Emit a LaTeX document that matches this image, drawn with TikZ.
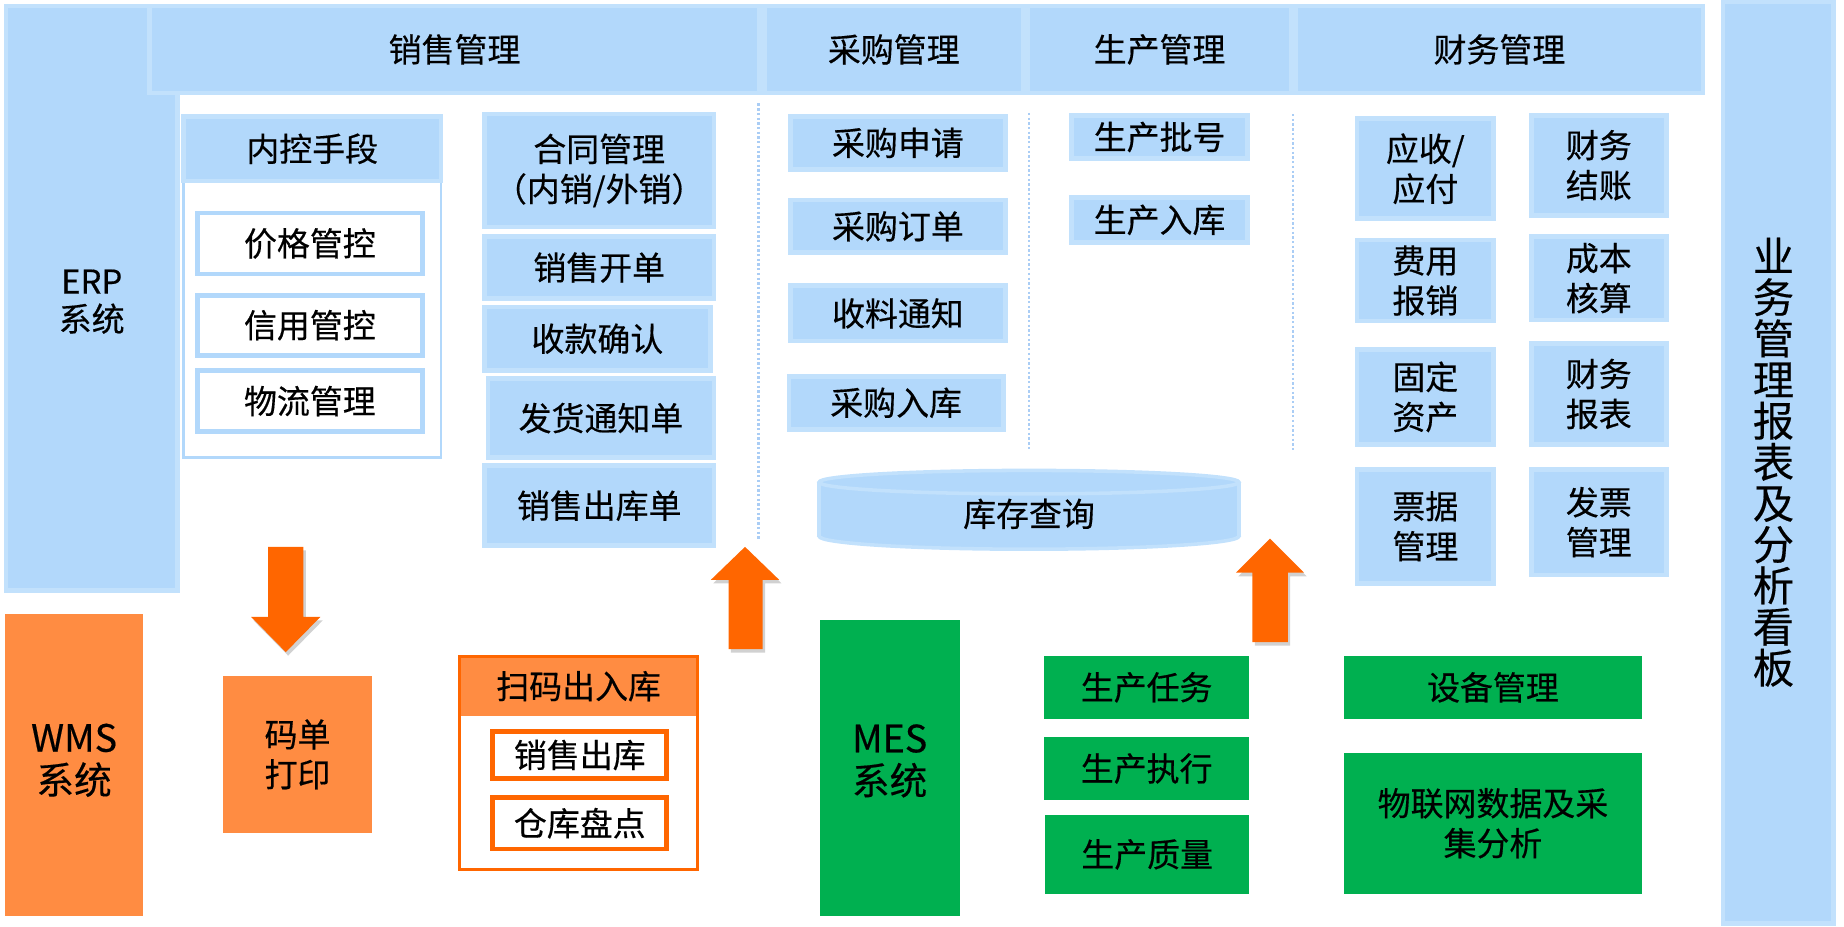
\documentclass[tikz,border=0pt]{standalone}
\usepackage{fontspec}
\setmainfont{Noto Sans CJK SC}[FakeBold=0.4]
\usetikzlibrary{fit}
\definecolor{bfill}{RGB}{178,216,251}
\definecolor{brim}{RGB}{194,225,252}
\definecolor{bline}{RGB}{170,205,245}
\definecolor{olite}{RGB}{255,140,66}
\definecolor{odark}{RGB}{255,102,0}
\definecolor{gfill}{RGB}{0,176,80}
% \bx{shape style}{name}{x1}{y1}{x2}{y2}{text style}{text}
\newcommand\bx[8]{%
  \node[#1, fit={(#3,#4)(#5,#6)}] (#2) {};
  \node[lbl, #7] (#2-t) at (#2.center) {#8};
}
\begin{document}
\begin{tikzpicture}[x=0.5pt,y=-0.5pt,
 shp/.style={inner sep=0pt},
 lbl/.style={inner sep=0pt, align=center, font=\fontsize{14}{17}\selectfont, text=black},
 bluebox/.style={shp, fill=bfill, draw=brim, line width=2pt},
 wbox/.style={shp, fill=white, draw=bfill, line width=2pt},
 obox/.style={shp, fill=olite},
 owbox/.style={shp, fill=white, draw=odark, line width=2pt},
 gbox/.style={shp, fill=gfill},
 bgrp/.style={shp, draw=bfill, line width=1.2pt, fill=white},
 ogrp/.style={shp, draw=odark, line width=1.3pt},
 dotline/.style={draw=bline, dash pattern=on 1pt off 1pt, line width=0.9pt},
 blockarrow/.style={fill=odark},
 arrowshadow/.style={fill=black, opacity=0.18},
]
\useasboundingbox (0,0) rectangle (1568,787.4);

% ERP column and headers
\bx{bluebox}{erp}{5}{5}{151}{502}{font=\fontsize{14}{16}\selectfont, yshift=-1.5pt}{ERP\\系统}
\bx{bluebox}{hsale}{127}{5}{646}{79}{}{销售管理}
\bx{bluebox}{hpur}{650}{5}{870}{79}{}{采购管理}
\bx{bluebox}{hprod}{874}{5}{1098}{79}{}{生产管理}
\bx{bluebox}{hfin}{1102}{5}{1448}{79}{}{财务管理}
\bx{bluebox}{board}{1465}{1}{1559}{785}{font=\fontsize{17.5}{17.5}\selectfont, xshift=-2}{业\\务\\管\\理\\报\\表\\及\\分\\析\\看\\板}

% internal control group
\node[bgrp, fit={(156,99)(375,389)}] (nkg) {};
\bx{bluebox}{nkh}{156}{99}{375}{154}{}{内控手段}
\bx{wbox}{jg}{168}{181}{359}{233}{}{价格管控}
\bx{wbox}{xy}{168}{251}{359}{302}{}{信用管控}
\bx{wbox}{wl}{168}{315}{359}{367}{}{物流管理}

% sales items
\bx{bluebox}{ht}{412}{97}{607}{193}{}{合同管理\\（内销/外销）}
\bx{bluebox}{xskd}{412}{201}{607}{254}{}{销售开单}
\bx{bluebox}{skqr}{412}{261}{604}{315}{}{收款确认}
\bx{bluebox}{fhtz}{415}{322}{607}{389}{}{发货通知单}
\bx{bluebox}{xsckd}{412}{396}{607}{464}{}{销售出库单}

\draw[dotline] (645,88) -- (645,460);

% purchase
\bx{bluebox}{cgsq}{672}{99}{855}{144}{}{采购申请}
\bx{bluebox}{cgdd}{672}{170}{855}{215}{}{采购订单}
\bx{bluebox}{sltz}{672}{243}{855}{290}{}{收料通知}
\bx{bluebox}{cgrk}{671}{320}{853}{365}{}{采购入库}
\draw[dotline] (875,96) -- (875,384);

% production
\bx{bluebox}{scph}{911}{98}{1061}{135}{}{生产批号}
\bx{bluebox}{scrk}{911}{168}{1061}{206}{}{生产入库}
\draw[dotline] (1099.5,97) -- (1099.5,384);

% finance
\bx{bluebox}{ys}{1154}{101}{1270}{186}{}{应收/\\应付}
\bx{bluebox}{cwjz}{1302}{98}{1417}{183}{}{财务\\结账}
\bx{bluebox}{fybx}{1154}{204}{1270}{273}{}{费用\\报销}
\bx{bluebox}{cbhs}{1302}{201}{1417}{272}{}{成本\\核算}
\bx{bluebox}{gdzc}{1154}{297}{1270}{378}{}{固定\\资产}
\bx{bluebox}{cwbb}{1302}{292}{1417}{378}{}{财务\\报表}
\bx{bluebox}{pjgl}{1154}{399}{1270}{496}{}{票据\\管理}
\bx{bluebox}{fpgl}{1302}{399}{1417}{489}{}{发票\\管理}

% inventory cylinder
\filldraw[fill=bfill, draw=brim, line width=1.5pt] (875,456) ellipse [x radius=178.5, y radius=11];
\fill[bfill] (696.5,410) rectangle (1053.5,456);
\draw[brim, line width=1.5pt] (696.5,410) -- (696.5,456) (1053.5,410) -- (1053.5,456);
\filldraw[fill=bfill, draw=brim, line width=1.5pt] (875,410) ellipse [x radius=178.5, y radius=10];
\node[lbl] (kc) at (875,437) {库存查询};

% block arrows
\fill[arrowshadow] (230,468) -- (260,468) -- (260,527.5) -- (274.5,527.5) -- (245,557.5) -- (215.5,527.5) -- (230,527.5) -- cycle;
\fill[blockarrow] (228,465) -- (258,465) -- (258,524.5) -- (272.5,524.5) -- (243,554.5) -- (213.5,524.5) -- (228,524.5) -- cycle;
\fill[arrowshadow] (621.5,555) -- (621.5,496) -- (606.5,496) -- (635.5,468) -- (664.5,496) -- (650.5,496) -- (650.5,555) -- cycle;
\fill[blockarrow] (619.5,552) -- (619.5,493) -- (604.5,493) -- (633.5,465) -- (662.5,493) -- (648.5,493) -- (648.5,552) -- cycle;
\fill[arrowshadow] (1067,549) -- (1067,490) -- (1053,490) -- (1082,461) -- (1111,490) -- (1097,490) -- (1097,549) -- cycle;
\fill[blockarrow] (1065,546) -- (1065,487) -- (1051,487) -- (1080,458) -- (1109,487) -- (1095,487) -- (1095,546) -- cycle;

% WMS
\bx{obox}{wms}{4}{522}{122}{779}{font=\fontsize{16}{18}\selectfont, yshift=2pt}{WMS\\系统}
\bx{obox}{mdp}{190}{575}{316}{708}{}{码单\\打印}
\node[shp, fill=white, fit={(391,558)(593,739)}] (smgbg) {};
\bx{obox}{smh}{391}{558}{593}{609}{}{扫码出入库}
\node[ogrp, fit={(391,558)(593,739)}] (smg) {};
\bx{owbox}{xsck}{419}{622}{567}{662}{}{销售出库}
\bx{owbox}{ckpd}{419}{678}{567}{722}{}{仓库盘点}

% MES
\bx{gbox}{mes}{697}{527}{816}{779}{font=\fontsize{16}{18}\selectfont, yshift=3pt}{MES\\系统}
\bx{gbox}{scrw}{888}{558}{1062}{611}{}{生产任务}
\bx{gbox}{sczx}{888}{627}{1062}{680}{}{生产执行}
\bx{gbox}{sczl}{889}{693}{1062}{760}{}{生产质量}
\bx{gbox}{sbgl}{1143}{558}{1396}{611}{}{设备管理}
\bx{gbox}{wlw}{1143}{640}{1396}{760}{}{物联网数据及采\\集分析}
\end{tikzpicture}
\end{document}
